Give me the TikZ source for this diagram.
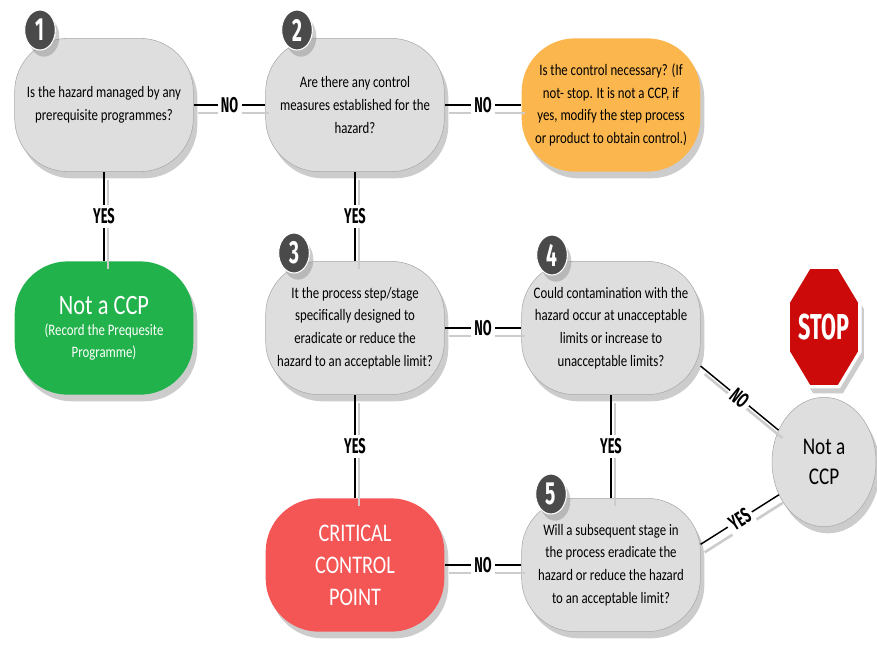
\documentclass[tikz,border=0pt]{standalone}
\usepackage{fontspec}
\setmainfont[FakeStretch=0.8]{Carlito}
\newfontfamily\tagfont[FakeStretch=0.6]{Fira Sans}
\newfontfamily\signfont{Fira Sans}
\usetikzlibrary{shapes.geometric, shadows, positioning}
\definecolor{boxgray}{HTML}{DEDEDE}
\definecolor{edgegray}{HTML}{A8A8A8}
\definecolor{ctrlorange}{HTML}{FBB64E}
\definecolor{ppgreen}{HTML}{21B24B}
\definecolor{ccpred}{HTML}{F45656}
\definecolor{signred}{HTML}{CC0A0A}
\definecolor{badgegray}{HTML}{4A4A4A}
\tikzset{
  shade/.style={drop shadow={shadow xshift=3pt, shadow yshift=-5pt, opacity=0.4}},
  stage/.style={rectangle, rounded corners=40pt, minimum width=134pt, minimum height=100pt,
    inner sep=2pt, align=center, draw=edgegray, fill=boxgray, shade,
    font=\fontsize{12}{17}\selectfont},
  badge/.style={ellipse, fill=badgegray, draw=white, line width=0.8pt, minimum width=23pt,
    minimum height=30pt, inner sep=0pt, text=white, shade,
    font=\tagfont\bfseries\fontsize{24}{24}\selectfont},
  tag/.style={fill=white, inner sep=2.5pt, font=\tagfont\bfseries\fontsize{16}{16}\selectfont},
  conn/.style={draw=black, line width=1.1pt,
    preaction={draw=gray!40, line width=2pt, transform canvas={shift={(3pt,-6pt)}}}}
}
\begin{document}
\begin{tikzpicture}[x=0.75pt, y=-0.75pt,
    endstate/.style={ellipse, minimum width=78pt, minimum height=97pt, inner sep=0pt,
      align=center, draw=edgegray, fill=boxgray, shade, font=\fontsize{18}{22}\selectfont},
    stopsign/.style={regular polygon, regular polygon sides=8, minimum size=70pt, inner sep=0pt,
      fill=signred, draw=white, line width=2.5pt, text=white, shade,
      xscale=0.6, transform shape, font=\signfont\bfseries\fontsize{27}{27}\selectfont}]
  \useasboundingbox (0,0) rectangle (877,644);
  \node[stage] (q1) at (104,105) {Is the hazard managed by any\\prerequisite programmes?};
  \node[stage] (q2) at (355,105) {Are there any control\\measures established for the\\hazard?};
  \node[stage, fill=ctrlorange, draw=none] (ctrl) at (611,105)
    {Is the control necessary? (If\\not- stop. It is not a CCP, if\\yes, modify the step process\\or product to obtain control.)};
  \node[stage, fill=ppgreen, draw=none, text=white, font=\fontsize{12}{16}\selectfont] (pp) at (104,328)
    {{\fontsize{21}{24}\selectfont Not a CCP}\\(Record the Prequesite\\Programme)};
  \node[stage] (q3) at (355,328)
    {It the process step/stage\\specifically designed to\\eradicate or reduce the\\hazard to an acceptable limit?};
  \node[stage] (q4) at (611,328)
    {Could contamination with the\\hazard occur at unacceptable\\limits or increase to\\unacceptable limits?};
  \node[stage, fill=ccpred, draw=none, text=white, font=\fontsize{19}{24}\selectfont] (ccp) at (355,565)
    {CRITICAL\\CONTROL\\POINT};
  \node[stage] (q5) at (611,565)
    {Will a subsequent stage in\\the process eradicate the\\hazard or reduce the hazard\\to an acceptable limit?};
  \node[endstate] (nccp) at (824,462) {Not a\\CCP};
  \path (824,327) node[stopsign] (stop) {STOP};

  \node[badge] (b1) at (40,30) {1};
  \node[badge] (b2) at (297,30) {2};
  \node[badge] (b3) at (294,253) {3};
  \node[badge] (b4) at (552,255) {4};
  \node[badge] (b5) at (551,494) {5};

  \draw[conn] (q1) -- node[tag] {NO} (q2);
  \draw[conn] (q2) -- node[tag] {NO} (ctrl);
  \draw[conn] (q1) -- node[tag] {YES} (pp);
  \draw[conn] (q2) -- node[tag] {YES} (q3);
  \draw[conn] (q3) -- node[tag] {NO} (q4);
  \draw[conn] (q3) -- node[tag] {YES} (ccp);
  \draw[conn] (q4) -- node[tag] {YES} (q5);
  \draw[conn] (q5) -- node[tag] {NO} (ccp);
  \draw[conn] (q4.-23) -- node[tag, sloped] {NO} (nccp.145);
  \draw[conn] (q5.13) -- node[tag, sloped] {YES} (nccp.216);
\end{tikzpicture}
\end{document}
